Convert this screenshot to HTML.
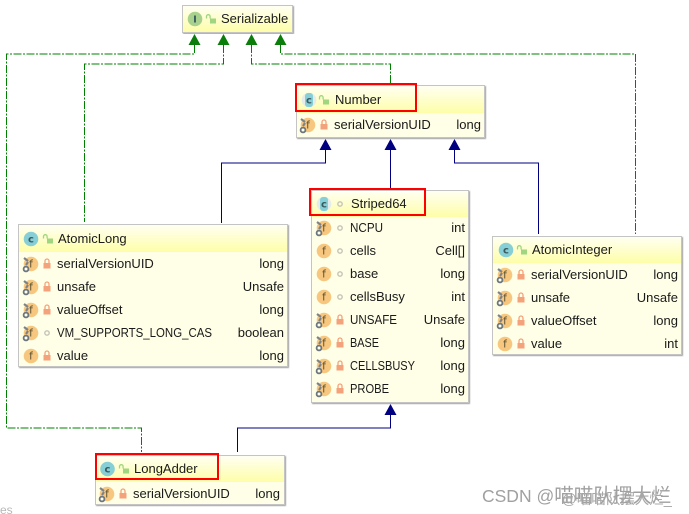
<!DOCTYPE html>
<html><head><meta charset="utf-8"><style>
html,body{margin:0;padding:0;background:#fff}
svg{display:block}
text{font-family:"Liberation Sans",sans-serif;font-size:13px;fill:#1a1a1a}
.i{font-family:"DejaVu Sans",sans-serif;font-size:10.500px;fill:#5a5030;text-anchor:middle}
.c{font-family:"DejaVu Sans",sans-serif;font-size:10px;font-weight:bold;fill:#3a5a60;text-anchor:middle}
.r{text-anchor:end}
.box{fill:#fffee6;stroke:#c4c4c4;stroke-width:1;filter:url(#sh)}
.dash{fill:none;stroke:#008000;stroke-width:1;stroke-dasharray:8 1.5 2 1.5}
.solid{fill:none;stroke:#000080;stroke-width:1}
.red{fill:none;stroke:#f00;stroke-width:2}
</style></head><body>
<svg width="689" height="514" viewBox="0 0 689 514" xmlns="http://www.w3.org/2000/svg">
<defs>
<linearGradient id="hd" x1="0" y1="0" x2="0" y2="1"><stop offset="0" stop-color="#fffff2"/><stop offset="1" stop-color="#fefeA8"/></linearGradient>
<filter id="sh" x="-5%" y="-5%" width="110%" height="110%"><feDropShadow dx="1" dy="1" stdDeviation="0.4" flood-color="#888" flood-opacity=".8"/></filter>
<g id="lk"><rect x="-3.500" y="-1" width="7" height="5.500" fill="#f4a27c"/><path d="M-2-1v-2a2 2 0 0 1 4 0v2" fill="none" stroke="#f4a27c" stroke-width="1.300"/></g>
<g id="ol"><rect x="-1" y="-.5" width="6" height="5" fill="#9fd67f"/><path d="M-4.500-.5v-2a1.800 1.800 0 0 1 3.600 0v2" fill="none" stroke="#9fd67f" stroke-width="1.300"/></g>
<g id="dt"><circle r="2.200" fill="none" stroke="#c4c4b8" stroke-width="1.400"/></g>
<g id="fc"><circle r="7.300" fill="#f7c77f"/></g>
<g id="pin"><path d="M-7-6l4 3M-5 1l2-3" stroke="#7d8288" stroke-width="2.200" fill="none"/><circle cx="-5" cy="5" r="2.400" fill="#fffee6" stroke="#6b7680" stroke-width="1.800"/></g>
<g id="cc"><circle r="7.300" fill="#87cfd6"/></g>
</defs>

<!-- dashed connectors -->
<path class="dash" d="M194.500 45V54H6.500V428H141.500V452"/>
<path class="dash" d="M223.500 45V64H84.500V222"/>
<path class="dash" d="M251.500 45V64H390.500V85"/>
<path class="dash" d="M280.500 45V54H635.500V234"/>
<path fill="#0a7d0a" d="M194.500 34l6 11h-12zM223.500 34l6 11h-12zM251.500 34l6 11h-12zM280.500 34l6 11h-12z"/>

<!-- solid connectors -->
<path class="solid" d="M325.500 150V163H221.500V223"/>
<path class="solid" d="M390.500 150V189"/>
<path class="solid" d="M454.500 150V163H538.500V234"/>
<path class="solid" d="M390.500 415V428H237.500V452"/>
<path fill="#000080" d="M325.500 139l6 11h-12zM390.500 139l6 11h-12zM454.500 139l6 11h-12zM390.500 404l6 11h-12z"/>

<!-- Serializable -->
<rect class="box" x="182.500" y="5.500" width="110" height="27"/>
<rect x="183" y="6" width="109" height="26" fill="url(#hd)"/>
<circle cx="195" cy="19" r="7.300" fill="#a9d18e"/><text class="c" x="195" y="22.500">I</text>
<use href="#ol" x="211" y="19"/>
<text x="221" y="23">Serializable</text>

<!-- Number -->
<rect class="box" x="296.500" y="85.500" width="188" height="52"/>
<rect x="297" y="86" width="187" height="27" fill="url(#hd)"/>
<circle cx="309" cy="100" r="7.300" fill="#e6ecec"/><rect x="305" y="93" width="8" height="14" rx="3" fill="#87cfd6"/><text class="c" x="309" y="103.500">c</text>
<use href="#ol" x="324" y="100"/>
<text x="335" y="104">Number</text>
<use href="#fc" x="308" y="125"/><use href="#pin" x="308" y="125"/><text class="i" x="308" y="128.500">f</text>
<use href="#lk" x="324" y="125"/>
<text x="334" y="129">serialVersionUID</text><text class="r" x="481" y="129">long</text>
<rect class="red" x="296" y="84" width="120" height="27"/>

<!-- Striped64 -->
<rect class="box" x="311.500" y="190.500" width="157" height="212"/>
<rect x="312" y="191" width="156" height="26" fill="url(#hd)"/>
<circle cx="324" cy="204" r="7.300" fill="#e6ecec"/><rect x="320" y="197" width="8" height="14" rx="3" fill="#87cfd6"/><text class="c" x="324" y="207.500">c</text>
<use href="#dt" x="340" y="204"/>
<text x="351" y="208">Striped64</text>
<use href="#fc" x="324" y="228"/><use href="#pin" x="324" y="228"/><text class="i" x="324" y="231.500">f</text><use href="#dt" x="340" y="228"/><text x="350" y="232" textLength="33" lengthAdjust="spacingAndGlyphs">NCPU</text><text class="r" x="465" y="232">int</text>
<use href="#fc" x="324" y="251"/><text class="i" x="324" y="254.500">f</text><use href="#dt" x="340" y="251"/><text x="350" y="255">cells</text><text class="r" x="465" y="255">Cell[]</text>
<use href="#fc" x="324" y="274"/><text class="i" x="324" y="277.500">f</text><use href="#dt" x="340" y="274"/><text x="350" y="278">base</text><text class="r" x="465" y="278">long</text>
<use href="#fc" x="324" y="297"/><text class="i" x="324" y="300.500">f</text><use href="#dt" x="340" y="297"/><text x="350" y="301">cellsBusy</text><text class="r" x="465" y="301">int</text>
<use href="#fc" x="324" y="320"/><use href="#pin" x="324" y="320"/><text class="i" x="324" y="323.500">f</text><use href="#lk" x="340" y="320"/><text x="350" y="324" textLength="47" lengthAdjust="spacingAndGlyphs">UNSAFE</text><text class="r" x="465" y="324">Unsafe</text>
<use href="#fc" x="324" y="343"/><use href="#pin" x="324" y="343"/><text class="i" x="324" y="346.500">f</text><use href="#lk" x="340" y="343"/><text x="350" y="347" textLength="29" lengthAdjust="spacingAndGlyphs">BASE</text><text class="r" x="465" y="347">long</text>
<use href="#fc" x="324" y="366"/><use href="#pin" x="324" y="366"/><text class="i" x="324" y="369.500">f</text><use href="#lk" x="340" y="366"/><text x="350" y="370" textLength="65" lengthAdjust="spacingAndGlyphs">CELLSBUSY</text><text class="r" x="465" y="370">long</text>
<use href="#fc" x="324" y="389"/><use href="#pin" x="324" y="389"/><text class="i" x="324" y="392.500">f</text><use href="#lk" x="340" y="389"/><text x="350" y="393" textLength="39" lengthAdjust="spacingAndGlyphs">PROBE</text><text class="r" x="465" y="393">long</text>
<rect class="red" x="310" y="189" width="115" height="26"/>

<!-- AtomicLong -->
<rect class="box" x="18.500" y="224.500" width="269" height="142"/>
<rect x="19" y="225" width="268" height="27" fill="url(#hd)"/>
<use href="#cc" x="31" y="239"/><text class="c" x="31" y="242.500">c</text>
<use href="#ol" x="48" y="239"/>
<text x="58" y="243">AtomicLong</text>
<use href="#fc" x="31" y="264"/><use href="#pin" x="31" y="264"/><text class="i" x="31" y="267.500">f</text><use href="#lk" x="47" y="264"/><text x="57" y="268">serialVersionUID</text><text class="r" x="284" y="268">long</text>
<use href="#fc" x="31" y="287"/><use href="#pin" x="31" y="287"/><text class="i" x="31" y="290.500">f</text><use href="#lk" x="47" y="287"/><text x="57" y="291">unsafe</text><text class="r" x="284" y="291">Unsafe</text>
<use href="#fc" x="31" y="310"/><use href="#pin" x="31" y="310"/><text class="i" x="31" y="313.500">f</text><use href="#lk" x="47" y="310"/><text x="57" y="314">valueOffset</text><text class="r" x="284" y="314">long</text>
<use href="#fc" x="31" y="333"/><use href="#pin" x="31" y="333"/><text class="i" x="31" y="336.500">f</text><use href="#dt" x="47" y="333"/><text x="57" y="337" textLength="155" lengthAdjust="spacingAndGlyphs">VM_SUPPORTS_LONG_CAS</text><text class="r" x="284" y="337">boolean</text>
<use href="#fc" x="31" y="356"/><text class="i" x="31" y="359.500">f</text><use href="#lk" x="47" y="356"/><text x="57" y="360">value</text><text class="r" x="284" y="360">long</text>

<!-- AtomicInteger -->
<rect class="box" x="492.500" y="236.500" width="189" height="118"/>
<rect x="493" y="237" width="188" height="26" fill="url(#hd)"/>
<use href="#cc" x="506" y="250"/><text class="c" x="506" y="253.500">c</text>
<use href="#ol" x="522" y="250"/>
<text x="532" y="254">AtomicInteger</text>
<use href="#fc" x="505" y="275"/><use href="#pin" x="505" y="275"/><text class="i" x="505" y="278.500">f</text><use href="#lk" x="521" y="275"/><text x="531" y="279">serialVersionUID</text><text class="r" x="678" y="279">long</text>
<use href="#fc" x="505" y="298"/><use href="#pin" x="505" y="298"/><text class="i" x="505" y="301.500">f</text><use href="#lk" x="521" y="298"/><text x="531" y="302">unsafe</text><text class="r" x="678" y="302">Unsafe</text>
<use href="#fc" x="505" y="321"/><use href="#pin" x="505" y="321"/><text class="i" x="505" y="324.500">f</text><use href="#lk" x="521" y="321"/><text x="531" y="325">valueOffset</text><text class="r" x="678" y="325">long</text>
<use href="#fc" x="505" y="344"/><text class="i" x="505" y="347.500">f</text><use href="#lk" x="521" y="344"/><text x="531" y="348">value</text><text class="r" x="678" y="348">int</text>

<!-- LongAdder -->
<rect class="box" x="95.500" y="455.500" width="189" height="49"/>
<rect x="96" y="456" width="188" height="26" fill="url(#hd)"/>
<use href="#cc" x="107.500" y="469"/><text class="c" x="107.500" y="472.500">c</text>
<use href="#ol" x="124" y="469"/>
<text x="134" y="473">LongAdder</text>
<use href="#fc" x="107" y="494"/><use href="#pin" x="107" y="494"/><text class="i" x="107" y="497.500">f</text><use href="#lk" x="123" y="494"/><text x="133" y="498">serialVersionUID</text><text class="r" x="280" y="498">long</text>
<rect class="red" x="96" y="454" width="122" height="25"/>

<!-- page residue + watermark -->
<text x="0" y="514" style="fill:#b8b8b8;font-size:12px">es</text>
<text x="482" y="502" style="font-family:'Liberation Sans','Noto Sans CJK SC',sans-serif;font-size:17.500px;fill:#a0a0a0">CSDN @<tspan style="font-size:19.500px">喵喵队摆大烂</tspan></text>
<text x="562" y="504" style="font-family:'Liberation Sans','Noto Sans CJK SC',sans-serif;font-size:14.500px;fill:#a8a8a8">@喵喵队摆大烂_</text>
</svg>
</body></html>
